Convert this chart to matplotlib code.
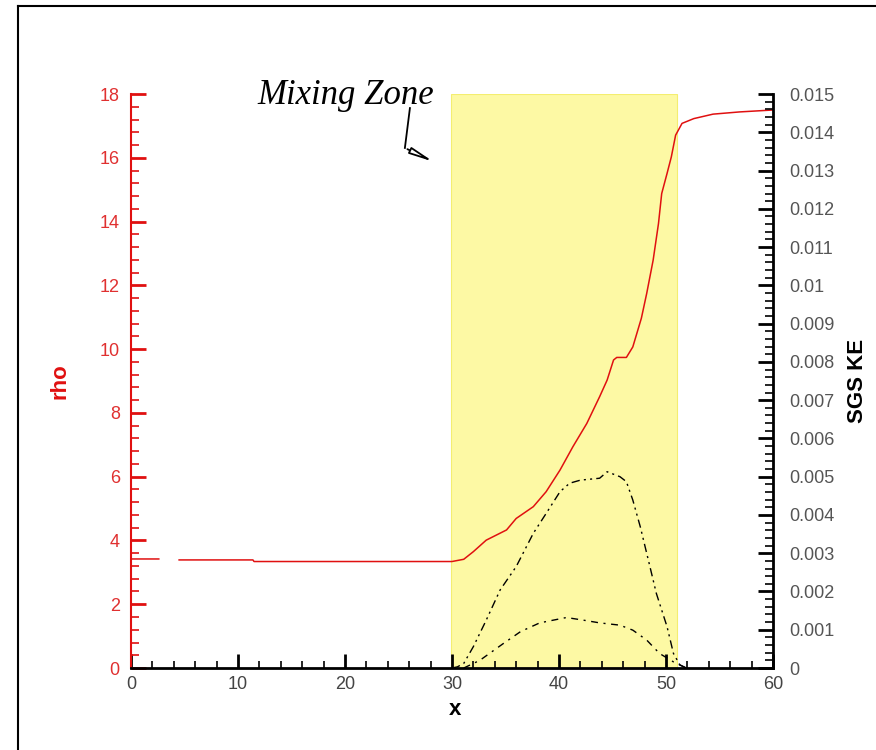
import numpy as np
import matplotlib
matplotlib.use("Agg")
import matplotlib.pyplot as plt
from matplotlib.lines import Line2D
from matplotlib.ticker import MultipleLocator, FuncFormatter

# rho profile (left axis)
rho_x = [0.0, 2.6, 3.5, 4.5, 11.4, 11.5, 30.0, 31.1, 32.0, 33.2, 35.1, 36.0, 37.6,
         38.8, 40.1, 41.3, 42.6, 43.8, 44.5, 45.1, 45.4, 46.3, 46.9, 47.7, 48.2,
         48.8, 49.3, 49.6, 50.1, 50.5, 50.9, 51.5, 52.6, 54.4, 56.9, 60.0]
rho = [3.42, 3.42, np.nan, 3.39, 3.39, 3.34, 3.34, 3.41, 3.65, 4.01, 4.33, 4.69, 5.06,
       5.53, 6.21, 6.94, 7.67, 8.51, 9.03, 9.66, 9.74, 9.74, 10.07, 10.97, 11.75,
       12.79, 13.94, 14.88, 15.51, 16.03, 16.71, 17.08, 17.23, 17.37, 17.44, 17.5]

# SGS KE profiles (right axis)
ke_x = [30.0, 30.5, 31.1, 32.0, 33.2, 34.5, 36.0, 37.6, 38.8, 40.1, 41.0, 42.0,
        43.8, 44.5, 45.7, 46.3, 46.9, 47.6, 48.5, 49.1, 50.1, 50.7, 51.3, 51.9]
ke_upper = [0.0, 0.00003, 0.00012, 0.00056, 0.00125, 0.00204, 0.00265, 0.00352,
            0.00404, 0.00461, 0.00483, 0.00491, 0.00496, 0.00513, 0.0050, 0.00487,
            0.00439, 0.00369, 0.00265, 0.00195, 0.00108, 0.00038, 0.00008, 0.0]

ke2_x = [31.1, 32.6, 34.8, 36.4, 38.2, 40.7, 42.3, 43.8, 45.7, 46.9, 48.2, 49.4,
         50.7, 51.9]
ke_lower = [0.0, 0.0002, 0.00064, 0.00095, 0.00118, 0.00132, 0.00125, 0.00118,
            0.00112, 0.00099, 0.00073, 0.00038, 0.00016, 0.0]

zone = (29.9, 51.0)

plt.rcParams['font.family'] = ['Liberation Sans', 'DejaVu Sans']
red = '#e01010'

fig = plt.figure(figsize=(8.76, 7.5), dpi=100)
ax = fig.add_axes([0.1495, 0.1093, 0.7329, 0.7653])
ax2 = ax.twinx()

ax.axvspan(zone[0], zone[1], color='#fdf9a4', zorder=0, lw=0.8, ec='#f4ee70')
ax.plot(rho_x, rho, color=red, lw=1.1)
ax2.plot(ke_x, ke_upper, color='black', lw=1.0, ls=(0, (6, 3, 1.5, 3, 1.5, 3)))
ax2.plot(ke2_x, ke_lower, color='black', lw=1.0, ls=(0, (5, 4, 1.5, 4)))

ax.set_xlim(0, 60)
ax.set_ylim(0, 18)
ax2.set_ylim(0, 0.015)

ax.xaxis.set_major_locator(MultipleLocator(10))
ax.xaxis.set_minor_locator(MultipleLocator(2))
ax.yaxis.set_major_locator(MultipleLocator(2))
ax.yaxis.set_minor_locator(MultipleLocator(0.4))
ax2.yaxis.set_major_locator(MultipleLocator(0.001))
ax2.yaxis.set_minor_locator(MultipleLocator(0.0002))
ax2.yaxis.set_major_formatter(FuncFormatter(lambda v, p: '%g' % round(v, 4)))

for a in (ax, ax2):
    a.spines['top'].set_visible(False)
ax.spines['right'].set_visible(False)
ax.spines['left'].set_color(red)
ax.spines['left'].set_linewidth(1.5)
ax.spines['bottom'].set_linewidth(2)
ax2.spines['left'].set_visible(False)
ax2.spines['bottom'].set_visible(False)
ax2.spines['right'].set_linewidth(2)

ax.tick_params(axis='x', which='major', direction='in', length=10, width=2,
               labelsize=13, colors='black', labelcolor='#444444', pad=6)
ax.tick_params(axis='x', which='minor', direction='in', length=5, width=1.2)
ax.tick_params(axis='y', which='major', direction='in', length=11, width=2,
               color=red, labelcolor='#e03030', labelsize=13, pad=8)
ax.tick_params(axis='y', which='minor', direction='in', length=6, width=1.2, color=red)
ax2.tick_params(axis='y', which='major', direction='in', length=11, width=2,
                labelcolor='#555555', labelsize=13, pad=12)
ax2.tick_params(axis='y', which='minor', direction='in', length=6, width=1.2)

ax.text(-0.11, 0.5, 'rho', transform=ax.transAxes, rotation=90, color=red,
        fontsize=16, fontweight='bold', ha='center', va='center')
ax.text(0.505, -0.073, 'x', transform=ax.transAxes, fontsize=16,
        fontweight='bold', ha='center', va='center')
ax2.text(1.131, 0.5, 'SGS KE', transform=ax.transAxes, rotation=90, fontsize=16,
         fontweight='bold', ha='center', va='center')

ax.text(0.335, 0.998, 'Mixing Zone', transform=ax.transAxes, fontsize=25,
        family='Liberation Serif', style='italic', ha='center', va='center',
        clip_on=False)
ax.plot([26.07, 25.6], [17.56, 16.31], color='black', lw=1.3, clip_on=False)
ax.annotate('', xy=(28.5, 15.84), xytext=(25.6, 16.31),
            arrowprops=dict(arrowstyle='-|>,head_length=1.4,head_width=0.2',
                            fc='white', ec='black', lw=1.3))

fig.add_artist(Line2D([18 / 876, 18 / 876], [0, 1 - 6 / 750],
                      transform=fig.transFigure, color='black', lw=1.5))
fig.add_artist(Line2D([18 / 876, 1], [1 - 6 / 750, 1 - 6 / 750],
                      transform=fig.transFigure, color='black', lw=1.5))

fig.savefig('out.png', dpi=100)
